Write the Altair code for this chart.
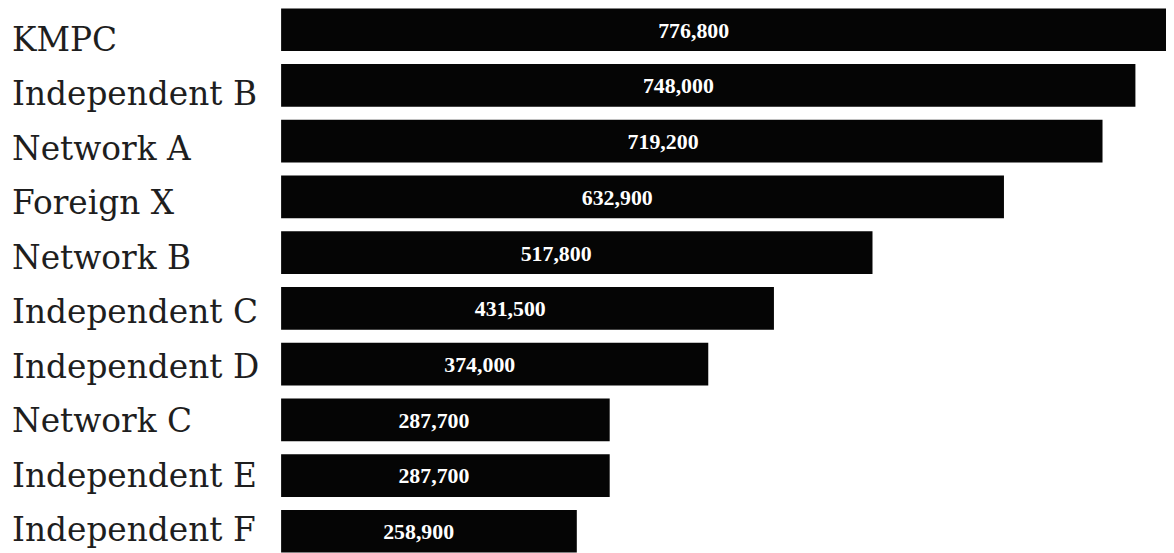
import altair as alt
import pandas as pd

stations = ["KMPC", "Independent B", "Network A", "Foreign X", "Network B",
            "Independent C", "Independent D", "Network C", "Independent E",
            "Independent F"]
listeners = [776800, 748000, 719200, 632900, 517800, 431500, 374000,
             287700, 287700, 258900]

df = pd.DataFrame({"station": stations, "listeners": listeners})

x_scale = alt.Scale(domain=[0, 800000], range=[0, 920])
bar_y = alt.Y(
    "station:N",
    sort=None,
    scale=alt.Scale(type="band", range=[-1.5, 546.5], paddingInner=0.233,
                    paddingOuter=0),
    axis=None,
)

bars = alt.Chart(df).mark_bar(color="#050505").encode(
    x=alt.X("listeners:Q", scale=x_scale, axis=None),
    y=bar_y,
)

values = alt.Chart(df).transform_calculate(
    pos="datum.listeners * 0.465"
).mark_text(
    color="white", font="Liberation Serif", fontWeight="bold", fontSize=22,
    align="center", baseline="middle", dy=1,
).encode(
    x=alt.X("pos:Q", scale=x_scale, axis=None),
    y=bar_y,
    text=alt.Text("listeners:Q", format=","),
)

names = alt.Chart(df).mark_text(
    color="#1e1e1e", font="DejaVu Serif", fontSize=33,
    align="left", baseline="alphabetic",
).encode(
    x=alt.value(-271),
    y=alt.Y(
        "station:N",
        sort=None,
        scale=alt.Scale(type="point", range=[41, 535], padding=0),
        axis=None,
    ),
    text="station:N",
)

chart = alt.layer(alt.layer(bars, values), names).resolve_scale(
    y="independent"
).properties(
    width=891,
    height=545,
    autosize=alt.AutoSizeParams(type="none"),
    padding={"left": 275, "top": 0, "right": 0, "bottom": 0},
    background="white",
).configure_view(stroke=None)

chart.save("out.html", embed_options={"renderer": "svg", "actions": False})
